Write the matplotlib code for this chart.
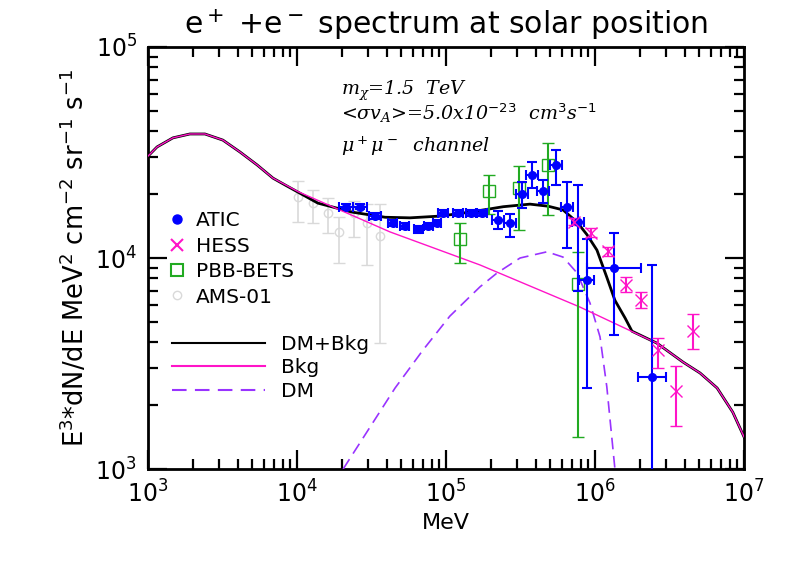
import numpy as np
import matplotlib
matplotlib.use("Agg")
import matplotlib.pyplot as plt
from matplotlib.lines import Line2D

plt.rcParams["mathtext.fontset"] = "custom"
plt.rcParams["mathtext.rm"] = "DejaVu Sans"
plt.rcParams["mathtext.it"] = "DejaVu Serif:italic"

# model curves (E in MeV, E^3 dN/dE)
bkg_e = [1000, 1150, 1470, 1910, 2410, 3180, 4140, 5400, 6900, 10200, 4.2e4,
         1.69e5, 7.9e5, 1.75e6, 2.6e6, 3.9e6, 5.07e6, 6.6e6, 8.4e6, 1e7]
bkg_f = [3.04e4, 3.36e4, 3.71e4, 3.87e4, 3.87e4, 3.62e4, 3.18e4, 2.76e4, 2.39e4, 2.06e4, 1.33e4,
         9.27e3, 5.86e3, 4.5e3, 3.95e3, 3.21e3, 2.85e3, 2.42e3, 1.86e3, 1.42e3]

dm_e = [2.04e4, 4.55e4, 7.0e4, 1.06e5, 1.69e5, 2.2e5, 3.14e5, 4.76e5, 6.1e5, 7.57e5, 9.25e5, 1.08e6, 1.2e6, 1.36e6]
dm_f = [1000, 2420, 3660, 5.3e3, 7.3e3, 8.49e3, 1.0e4, 1.07e4, 1.01e4, 8.5e3, 6.12e3, 4.23e3, 2.45e3, 1000]

tot_e = [1000, 1150, 1470, 1910, 2410, 3180, 4140, 5400, 6900, 8300, 1.38e4, 2.34e4, 3.9e4,
         5.73e4, 9.12e4, 1.45e5, 2.42e5, 3.66e5, 4.84e5, 6.1e5, 7.57e5, 8.83e5, 1.03e6,
         1.2e6, 1.36e6, 1.59e6, 1.77e6, 2.6e6, 3.9e6, 5.07e6, 6.6e6, 8.4e6, 1e7]
tot_f = [3.04e4, 3.36e4, 3.71e4, 3.87e4, 3.87e4, 3.62e4, 3.18e4, 2.76e4, 2.39e4, 2.22e4, 1.82e4, 1.65e4, 1.56e4,
         1.55e4, 1.58e4, 1.65e4, 1.75e4, 1.80e4, 1.76e4, 1.69e4, 1.48e4, 1.29e4, 1.09e4,
         8.1e3, 6.3e3, 5.2e3, 4.5e3, 3.95e3, 3.21e3, 2.85e3, 2.42e3, 1.86e3, 1.42e3]

# ATIC
atic_e = [2.13e4, 2.65e4, 3.34e4, 4.4e4, 5.3e4, 6.5e4, 7.6e4, 8.7e4, 9.55e4, 1.2e5, 1.47e5, 1.75e5,
          2.24e5, 2.69e5, 3.24e5, 3.78e5, 4.48e5, 5.47e5, 6.5e5, 7.7e5, 8.8e5, 1.34e6, 2.41e6]
atic_f = [1.75e4, 1.75e4, 1.58e4, 1.47e4, 1.42e4, 1.37e4, 1.42e4, 1.47e4, 1.63e4, 1.63e4, 1.63e4, 1.63e4,
          1.51e4, 1.47e4, 2.01e4, 2.47e4, 2.08e4, 2.76e4, 1.75e4, 1.48e4, 7.9e3, 8.97e3, 2.73e3]
atic_lo = [1.70e4, 1.70e4, 1.53e4, 1.42e4, 1.37e4, 1.32e4, 1.37e4, 1.42e4, 1.58e4, 1.58e4, 1.58e4, 1.58e4,
           1.37e4, 1.26e4, 1.73e4, 2.15e4, 1.82e4, 2.22e4, 1.11e4, 7.0e3, 2.42e3, 4.3e3, 1e2]
atic_hi = [1.80e4, 1.80e4, 1.63e4, 1.52e4, 1.47e4, 1.42e4, 1.47e4, 1.52e4, 1.68e4, 1.68e4, 1.68e4, 1.68e4,
           1.67e4, 1.62e4, 2.29e4, 2.85e4, 2.35e4, 3.25e4, 2.29e4, 2.22e4, 1.23e4, 1.31e4, 9.3e3]
atic_dex = [0.045, 0.045, 0.04, 0.03, 0.03, 0.03, 0.03, 0.03, 0.035, 0.035, 0.035, 0.035,
            0.04, 0.04, 0.04, 0.04, 0.04, 0.04, 0.04, 0.04, 0.05, 0.18, 0.095]

# HESS
hess_e = [7.2e5, 9.4e5, 1.22e6, 1.61e6, 2.04e6, 2.65e6, 3.5e6, 4.55e6]
hess_f = [1.48e4, 1.31e4, 1.08e4, 7.45e3, 6.32e3, 3.66e3, 2.34e3, 4.5e3]
hess_lo = [1.43e4, 1.26e4, 1.02e4, 6.9e3, 5.8e3, 3.01e3, 1.6e3, 3.7e3]
hess_hi = [1.55e4, 1.39e4, 1.13e4, 8.13e3, 6.9e3, 4.18e3, 3.08e3, 5.43e3]

# PBB-BETS
pbb_e = [1.24e5, 1.95e5, 3.09e5, 4.84e5, 7.7e5]
pbb_f = [1.23e4, 2.08e4, 2.15e4, 2.76e4, 7.5e3]
pbb_lo = [9.46e3, 1.62e4, 1.36e4, 1.6e4, 1.42e3]
pbb_hi = [1.47e4, 2.47e4, 2.73e4, 3.51e4, 1.07e4]

# AMS-01
ams_e = [1.02e4, 1.28e4, 1.61e4, 1.91e4, 2.41e4, 2.95e4, 3.6e4]
ams_f = [1.95e4, 1.82e4, 1.63e4, 1.33e4, 1.63e4, 1.47e4, 1.27e4]
ams_lo = [1.48e4, 1.47e4, 1.31e4, 9.5e3, 1.26e4, 9.3e3, 3.95e3]
ams_hi = [2.32e4, 2.1e4, 1.92e4, 1.56e4, 1.86e4, 1.8e4, 1.8e4]

c_blue = "#0000ff"
c_mag = "#ff14c8"
c_green = "#22aa22"
c_gray = "#d9d9d9"
c_dm = "#9933ff"


def yerr(f, lo, hi):
    f = np.array(f)
    return [f - np.array(lo), np.array(hi) - f]


fig = plt.figure(figsize=(7.89, 5.64), dpi=100)
ax = fig.add_axes([0.1876, 0.1684, 0.7554, 0.7483])

ax.errorbar(ams_e, ams_f, yerr=yerr(ams_f, ams_lo, ams_hi), fmt="o", ms=6, mfc="none",
            mec=c_gray, ecolor=c_gray, mew=1.0, elinewidth=1.2, capsize=4, capthick=1.2, zorder=2)

ax.plot(tot_e, tot_f, color="black", lw=2.0, zorder=3)
ax.plot(bkg_e, bkg_f, color=c_mag, lw=1.0, zorder=4)
ax.plot(dm_e, dm_f, color=c_dm, lw=1.2, dashes=(7, 4), zorder=3)

ax.errorbar(pbb_e, pbb_f, yerr=yerr(pbb_f, pbb_lo, pbb_hi), fmt="s", ms=8, mfc="none",
            mec=c_green, ecolor=c_green, mew=1.0, elinewidth=1.5, capsize=4, capthick=1.5, zorder=5)

ae = np.array(atic_e)
ad = np.array(atic_dex)
xerr = [ae - ae * 10 ** (-ad), ae * 10 ** ad - ae]
ax.errorbar(atic_e, atic_f, xerr=xerr, yerr=yerr(atic_f, atic_lo, atic_hi), fmt="o", ms=5.5,
            color=c_blue, elinewidth=1.5, capsize=3.5, capthick=1.5, zorder=6)

ax.errorbar(hess_e, hess_f, yerr=yerr(hess_f, hess_lo, hess_hi), fmt="x", ms=8,
            color=c_mag, mew=1.0, elinewidth=1.5, capsize=4, capthick=1.5, zorder=6)

ax.set_xscale("log")
ax.set_yscale("log")
ax.set_xlim(1e3, 1e7)
ax.set_ylim(1e3, 1e5)

for s in ax.spines.values():
    s.set_linewidth(2)
ax.tick_params(which="both", direction="in", top=True, right=True, labelsize=17)
ax.tick_params(which="major", length=14, width=1.6, pad=8)
ax.tick_params(which="minor", length=7, width=1.6)

ax.set_title(r"e$^+$ +e$^-$ spectrum at solar position", fontsize=21.5, pad=9)
ax.set_xlabel("MeV", fontsize=16)
ax.set_ylabel(r"E$^3$*dN/dE MeV$^2$ cm$^{-2}$ sr$^{-1}$ s$^{-1}$", fontsize=18.5)

txt = dict(transform=ax.transAxes, fontsize=13.7, ha="left", va="baseline",
           family="DejaVu Serif", style="italic")
ax.text(0.323, 0.887, r"$m_\chi$=1.5  TeV", **txt)
ax.text(0.323, 0.827, r"<$\sigma v_A$>=5.0x10$^{\mathit{-23}}$  cm$^{\mathit{3}}$s$^{\mathit{-1}}$", **txt)
ax.text(0.323, 0.752, r"$\mu^+\mu^-$  channel", **txt)

h1 = [Line2D([], [], ls="none", marker="o", ms=6.5, color=c_blue),
      Line2D([], [], ls="none", marker="x", ms=9, mew=1.5, color=c_mag),
      Line2D([], [], ls="none", marker="s", ms=9, mfc="none", mew=1.5, mec=c_green),
      Line2D([], [], ls="none", marker="o", ms=6, mfc="none", mec=c_gray)]
leg1 = ax.legend(h1, ["ATIC", "HESS", "PBB-BETS", "AMS-01"], loc="upper left",
                 bbox_to_anchor=(0.018, 0.63), frameon=False, fontsize=14.5,
                 handlelength=1.0, handletextpad=0.45, labelspacing=0.32, borderaxespad=0)
ax.add_artist(leg1)

h2 = [Line2D([], [], color="black", lw=1.5),
      Line2D([], [], color=c_mag, lw=1.5),
      Line2D([], [], color=c_dm, lw=1.5, dashes=(7, 4))]
ax.legend(h2, ["DM+Bkg", "Bkg", "DM"], loc="upper left", bbox_to_anchor=(0.027, 0.337),
          frameon=False, fontsize=14.5, handlelength=4.6, handletextpad=0.8,
          labelspacing=0.22, borderaxespad=0)

fig.savefig("out.png", dpi=100)
